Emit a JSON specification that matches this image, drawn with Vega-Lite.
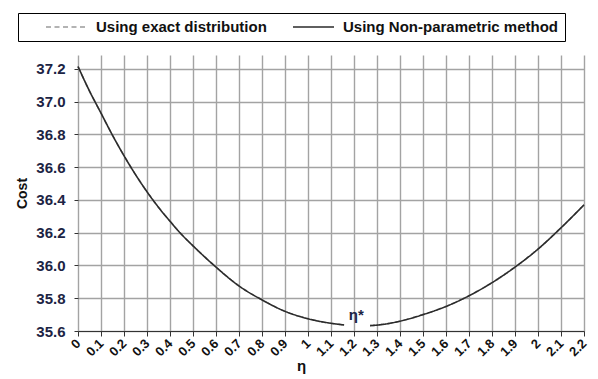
{
  "$schema": "https://vega.github.io/schema/vega-lite/v6.json",
  "width": 506,
  "height": 276,
  "autosize": {"type": "none"},
  "padding": {"left": 78, "top": 55, "right": 14, "bottom": 48},
  "background": "white",
  "config": {
    "view": {"stroke": null},
    "font": "Liberation Sans",
    "axis": {"labelFont": "Liberation Sans", "titleFont": "Liberation Sans", "labelFontWeight": "bold", "titleFontWeight": "bold"}
  },
  "datasets": {
    "curve": [
      {"eta": 0, "cost": 37.215, "series": "Using exact distribution", "seg": "a"},
      {"eta": 0.05, "cost": 37.065, "series": "Using exact distribution", "seg": "a"},
      {"eta": 0.1, "cost": 36.93, "series": "Using exact distribution", "seg": "a"},
      {"eta": 0.15, "cost": 36.795, "series": "Using exact distribution", "seg": "a"},
      {"eta": 0.2, "cost": 36.67, "series": "Using exact distribution", "seg": "a"},
      {"eta": 0.25, "cost": 36.555, "series": "Using exact distribution", "seg": "a"},
      {"eta": 0.3, "cost": 36.45, "series": "Using exact distribution", "seg": "a"},
      {"eta": 0.35, "cost": 36.355, "series": "Using exact distribution", "seg": "a"},
      {"eta": 0.4, "cost": 36.27, "series": "Using exact distribution", "seg": "a"},
      {"eta": 0.45, "cost": 36.19, "series": "Using exact distribution", "seg": "a"},
      {"eta": 0.5, "cost": 36.12, "series": "Using exact distribution", "seg": "a"},
      {"eta": 0.6, "cost": 35.99, "series": "Using exact distribution", "seg": "a"},
      {"eta": 0.7, "cost": 35.875, "series": "Using exact distribution", "seg": "a"},
      {"eta": 0.8, "cost": 35.79, "series": "Using exact distribution", "seg": "a"},
      {"eta": 0.9, "cost": 35.72, "series": "Using exact distribution", "seg": "a"},
      {"eta": 1.0, "cost": 35.675, "series": "Using exact distribution", "seg": "a"},
      {"eta": 1.1, "cost": 35.647, "series": "Using exact distribution", "seg": "a"},
      {"eta": 1.157, "cost": 35.637, "series": "Using exact distribution", "seg": "a"},
      {"eta": 1.27, "cost": 35.633, "series": "Using exact distribution", "seg": "b"},
      {"eta": 1.3, "cost": 35.636, "series": "Using exact distribution", "seg": "b"},
      {"eta": 1.4, "cost": 35.66, "series": "Using exact distribution", "seg": "b"},
      {"eta": 1.5, "cost": 35.7, "series": "Using exact distribution", "seg": "b"},
      {"eta": 1.6, "cost": 35.75, "series": "Using exact distribution", "seg": "b"},
      {"eta": 1.7, "cost": 35.815, "series": "Using exact distribution", "seg": "b"},
      {"eta": 1.8, "cost": 35.895, "series": "Using exact distribution", "seg": "b"},
      {"eta": 1.9, "cost": 35.99, "series": "Using exact distribution", "seg": "b"},
      {"eta": 2.0, "cost": 36.1, "series": "Using exact distribution", "seg": "b"},
      {"eta": 2.1, "cost": 36.23, "series": "Using exact distribution", "seg": "b"},
      {"eta": 2.2, "cost": 36.37, "series": "Using exact distribution", "seg": "b"},
      {"eta": 0, "cost": 37.215, "series": "Using Non-parametric method", "seg": "a"},
      {"eta": 0.05, "cost": 37.065, "series": "Using Non-parametric method", "seg": "a"},
      {"eta": 0.1, "cost": 36.93, "series": "Using Non-parametric method", "seg": "a"},
      {"eta": 0.15, "cost": 36.795, "series": "Using Non-parametric method", "seg": "a"},
      {"eta": 0.2, "cost": 36.67, "series": "Using Non-parametric method", "seg": "a"},
      {"eta": 0.25, "cost": 36.555, "series": "Using Non-parametric method", "seg": "a"},
      {"eta": 0.3, "cost": 36.45, "series": "Using Non-parametric method", "seg": "a"},
      {"eta": 0.35, "cost": 36.355, "series": "Using Non-parametric method", "seg": "a"},
      {"eta": 0.4, "cost": 36.27, "series": "Using Non-parametric method", "seg": "a"},
      {"eta": 0.45, "cost": 36.19, "series": "Using Non-parametric method", "seg": "a"},
      {"eta": 0.5, "cost": 36.12, "series": "Using Non-parametric method", "seg": "a"},
      {"eta": 0.6, "cost": 35.99, "series": "Using Non-parametric method", "seg": "a"},
      {"eta": 0.7, "cost": 35.875, "series": "Using Non-parametric method", "seg": "a"},
      {"eta": 0.8, "cost": 35.79, "series": "Using Non-parametric method", "seg": "a"},
      {"eta": 0.9, "cost": 35.72, "series": "Using Non-parametric method", "seg": "a"},
      {"eta": 1.0, "cost": 35.675, "series": "Using Non-parametric method", "seg": "a"},
      {"eta": 1.1, "cost": 35.647, "series": "Using Non-parametric method", "seg": "a"},
      {"eta": 1.157, "cost": 35.637, "series": "Using Non-parametric method", "seg": "a"},
      {"eta": 1.27, "cost": 35.633, "series": "Using Non-parametric method", "seg": "b"},
      {"eta": 1.3, "cost": 35.636, "series": "Using Non-parametric method", "seg": "b"},
      {"eta": 1.4, "cost": 35.66, "series": "Using Non-parametric method", "seg": "b"},
      {"eta": 1.5, "cost": 35.7, "series": "Using Non-parametric method", "seg": "b"},
      {"eta": 1.6, "cost": 35.75, "series": "Using Non-parametric method", "seg": "b"},
      {"eta": 1.7, "cost": 35.815, "series": "Using Non-parametric method", "seg": "b"},
      {"eta": 1.8, "cost": 35.895, "series": "Using Non-parametric method", "seg": "b"},
      {"eta": 1.9, "cost": 35.99, "series": "Using Non-parametric method", "seg": "b"},
      {"eta": 2.0, "cost": 36.1, "series": "Using Non-parametric method", "seg": "b"},
      {"eta": 2.1, "cost": 36.23, "series": "Using Non-parametric method", "seg": "b"},
      {"eta": 2.2, "cost": 36.37, "series": "Using Non-parametric method", "seg": "b"}
    ],
    "annot": [{"eta": 1.21, "cost": 35.665, "label": "η*"}]
  },
  "layer": [
    {
      "data": {"name": "curve"},
      "mark": {"type": "line", "interpolate": "monotone", "strokeWidth": 1.6},
      "encoding": {
        "x": {
          "field": "eta", "type": "quantitative",
          "scale": {"domain": [0, 2.2], "nice": false, "zero": false},
          "axis": {
            "title": "η",
            "titleFontSize": 15,
            "titleColor": "#111",
            "titleX": 223,
            "titleY": 34,
            "titleBaseline": "middle",
            "values": [0, 0.1, 0.2, 0.3, 0.4, 0.5, 0.6, 0.7, 0.8, 0.9, 1, 1.1, 1.2, 1.3, 1.4, 1.5, 1.6, 1.7, 1.8, 1.9, 2, 2.1, 2.2],
            "tickCount": 40,
            "format": "~g",
            "labelAngle": -45,
            "labelAlign": "right",
            "labelBaseline": "middle",
            "labelFontSize": 13,
            "labelColor": "#111",
            "labelPadding": 5,
            "labelOverlap": false,
            "labelFlush": false,
            "tickSize": 5,
            "tickColor": "#333",
            "domainColor": "#333",
            "domainWidth": 1.2,
            "grid": true,
            "gridColor": "#a3a3a3",
            "gridWidth": 1.4
          }
        },
        "y": {
          "field": "cost", "type": "quantitative",
          "scale": {"domain": [35.6, 37.285], "nice": false, "zero": false},
          "axis": {
            "title": "Cost",
            "titleFontSize": 14,
            "titleColor": "#111",
            "titlePadding": 6,
            "values": [35.6, 35.8, 36.0, 36.2, 36.4, 36.6, 36.8, 37.0, 37.2],
            "tickCount": 20,
            "format": ".1f",
            "labelFontSize": 15,
            "labelColor": "#1c2444",
            "labelPadding": 9,
            "labelOverlap": false,
            "tickSize": 4,
            "tickColor": "#333",
            "domain": false,
            "grid": true,
            "gridColor": "#a3a3a3",
            "gridWidth": 1.4
          }
        },
        "color": {
          "field": "series", "type": "nominal",
          "scale": {"domain": ["Using exact distribution", "Using Non-parametric method"], "range": ["#9a9a9a", "#2b2b2b"]},
          "legend": {
            "title": null,
            "orient": "none",
            "legendX": -60,
            "legendY": -42,
            "direction": "horizontal",
            "strokeColor": "#000",
            "fillColor": "white",
            "padding": 6,
            "symbolType": "stroke",
            "symbolSize": 1681,
            "symbolStrokeWidth": 1.5,
            "symbolOffset": 21,
            "labelFont": "Liberation Sans",
            "labelFontWeight": "bold",
            "labelFontSize": 15,
            "labelColor": "#111",
            "labelOffset": 8,
            "labelLimit": 400,
            "columnPadding": 4,
            "clipHeight": 16,
            "labelExpr": "indexof(datum.label, 'Non') >= 0 ? datum.label + '\u2003\u2003' : datum.label"
          }
        },
        "strokeDash": {
          "field": "series", "type": "nominal",
          "scale": {"domain": ["Using exact distribution", "Using Non-parametric method"], "range": [[5, 3.5], [1, 0]]},
          "legend": {
            "title": null,
            "orient": "none",
            "legendX": -60,
            "legendY": -42,
            "direction": "horizontal",
            "strokeColor": "#000",
            "fillColor": "white",
            "padding": 6,
            "symbolType": "stroke",
            "symbolSize": 1681,
            "symbolStrokeWidth": 1.5,
            "symbolOffset": 21,
            "labelFont": "Liberation Sans",
            "labelFontWeight": "bold",
            "labelFontSize": 15,
            "labelColor": "#111",
            "labelOffset": 8,
            "labelLimit": 400,
            "columnPadding": 4,
            "clipHeight": 16,
            "labelExpr": "indexof(datum.label, 'Non') >= 0 ? datum.label + '\u2003\u2003' : datum.label"
          }
        },
        "detail": {"field": "seg"}
      }
    },
    {
      "data": {"name": "annot"},
      "mark": {"type": "text", "font": "Liberation Sans", "fontWeight": "bold", "fontSize": 15, "color": "#1c2444", "baseline": "alphabetic", "align": "center"},
      "encoding": {
        "x": {"field": "eta", "type": "quantitative"},
        "y": {"field": "cost", "type": "quantitative"},
        "text": {"field": "label"}
      }
    }
  ]
}
